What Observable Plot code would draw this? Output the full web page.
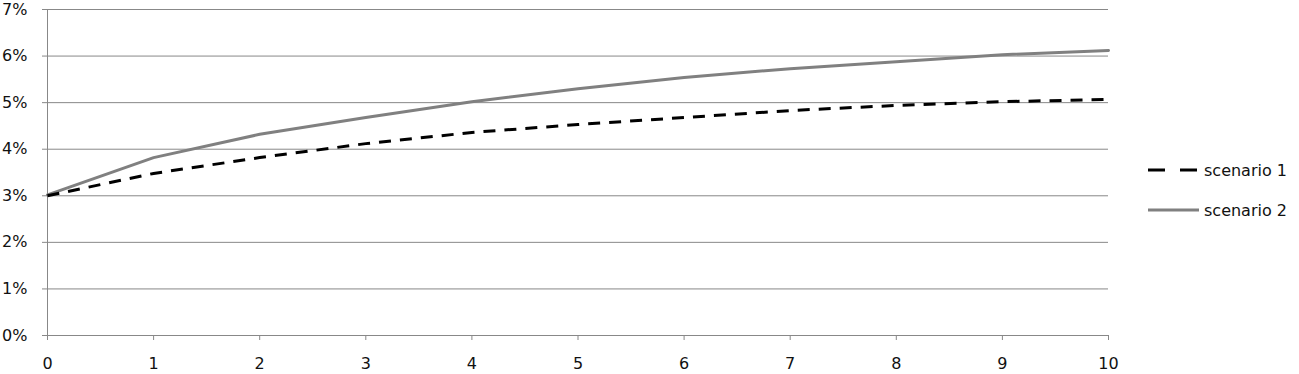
<!DOCTYPE html>
<html><head><meta charset="utf-8">
<script src="https://cdn.jsdelivr.net/npm/d3@7"></script>
<script src="https://cdn.jsdelivr.net/npm/@observablehq/plot@0.6"></script>
<style>
body{margin:0;background:#fff;font-family:"DejaVu Sans",sans-serif;}
#wrap{position:relative;width:1299px;height:374px;}
#legend{position:absolute;left:1148px;top:150px;font-size:16px;color:#111;}
.item{display:flex;align-items:center;height:40px;}
.item svg{margin-right:5px;}
</style></head><body>
<div id="wrap"><div id="chart"></div>
<div id="legend"></div></div>
<script>
const years = [0,1,2,3,4,5,6,7,8,9,10];
const scenario1 = [3.0,3.48,3.82,4.12,4.36,4.53,4.68,4.83,4.94,5.02,5.07];
const scenario2 = [3.02,3.82,4.32,4.68,5.02,5.30,5.54,5.73,5.88,6.03,6.12];
const yTicks = [0,1,2,3,4,5,6,7];
const seriesNames = ["scenario 1","scenario 2"];

const data = [];
years.forEach((x,i)=>{
  data.push({x, y: scenario1[i]/100, s: seriesNames[0]});
  data.push({x, y: scenario2[i]/100, s: seriesNames[1]});
});

const chart = Plot.plot({
  width: 1299, height: 374,
  marginLeft: 47, marginRight: 191, marginTop: 9, marginBottom: 39,
  style: {fontFamily: '"DejaVu Sans", sans-serif', fontSize: "16px", color: "#111", background: "#fff", overflow: "visible"},
  x: {domain: [0,10], ticks: years},
  y: {domain: [0,0.07], ticks: yTicks.map(d=>d/100)},
  marks: [
    Plot.gridY(yTicks.map(d=>d/100), {stroke: "#888", strokeOpacity: 1, strokeWidth: 1}),
    Plot.axisY(yTicks.map(d=>d/100), {tickFormat: d=>Math.round(d*100)+"%", tickSize: 5, tickPadding: 15, stroke:"#888", label: null, fontSize: 16}),
    Plot.axisX(years, {tickSize: 5, tickPadding: 17, stroke:"#888", label: null, fontSize: 16}),
    Plot.ruleX([0], {stroke: "#888"}),
    Plot.ruleY([0], {stroke: "#888"}),
    Plot.line(data.filter(d=>d.s===seriesNames[1]), {x:"x", y:"y", stroke:"#808080", strokeWidth: 3}),
    Plot.line(data.filter(d=>d.s===seriesNames[0]), {x:"x", y:"y", stroke:"#000", strokeWidth: 3, strokeDasharray: "12,9", strokeLinecap: "butt"})
  ]
});
document.getElementById("chart").appendChild(chart);

const leg = document.getElementById("legend");
const styles = [{stroke:"#000", dash:"17,15"},{stroke:"#808080", dash:null}];
seriesNames.forEach((n,i)=>{
  const d = document.createElement("div"); d.className="item";
  d.innerHTML = `<svg width="51" height="6"><line x1="0" y1="3" x2="51" y2="3" stroke="${styles[i].stroke}" stroke-width="3" ${styles[i].dash?`stroke-dasharray="${styles[i].dash}"`:""}/></svg><span>${n}</span>`;
  leg.appendChild(d);
});
</script>
</body></html>
